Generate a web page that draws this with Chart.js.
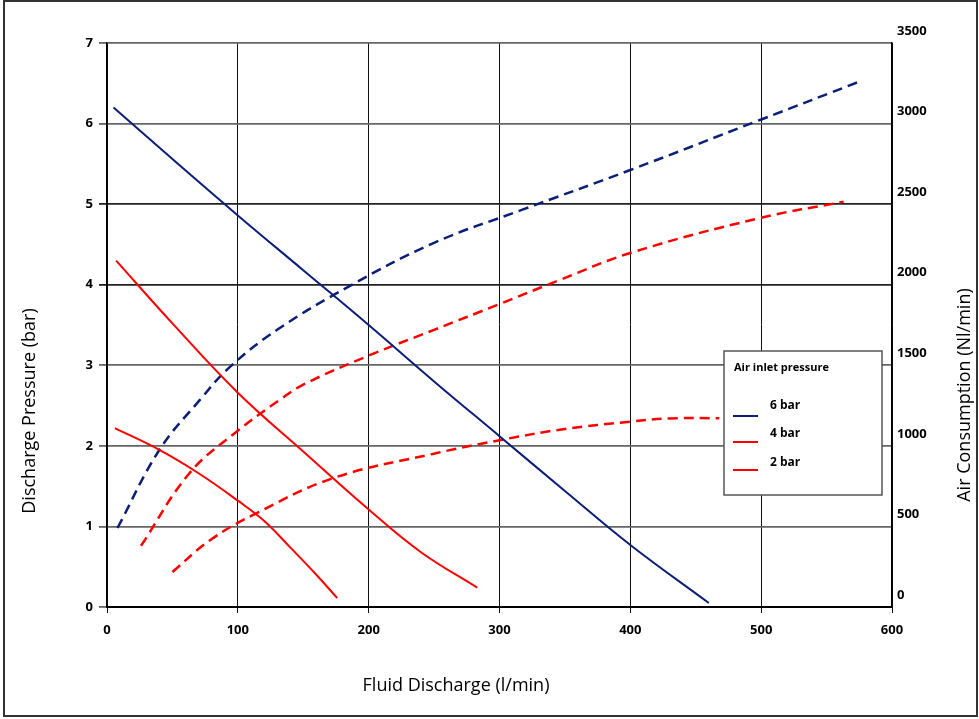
<!DOCTYPE html>
<html>
<head>
<meta charset="utf-8">
<script src="https://cdn.jsdelivr.net/npm/chart.js@4.4.1/dist/chart.umd.min.js"></script>
<style>
  html, body { margin: 0; padding: 0; background: #fff; }
  #wrap { position: relative; width: 979px; height: 719px; }
</style>
</head>
<body>
<div id="wrap"><canvas id="chart" width="979" height="719"></canvas></div>
<script>
// discharge pressure curves (left axis, bar) vs fluid discharge (l/min)
const flow6 = [5, 50, 100, 150, 200, 250, 300, 350, 400, 460];
const press6 = [6.2, 5.56, 4.86, 4.18, 3.5, 2.8, 2.12, 1.44, 0.77, 0.05];
const flow4 = [7, 50, 100, 150, 200, 240, 283];
const press4 = [4.3, 3.52, 2.66, 1.93, 1.21, 0.68, 0.24];
const flow2 = [6, 40, 70, 100, 120, 140, 160, 176];
const press2 = [2.22, 1.95, 1.66, 1.32, 1.07, 0.74, 0.4, 0.11];

// air consumption curves (right axis, Nl/min)
const airFlow6 = [8, 40, 71, 94, 130, 185, 250, 317, 400, 499, 575];
const air6 = [490, 974, 1285, 1490, 1720, 1990, 2260, 2464, 2712, 3022, 3260];
const airFlow4 = [26, 63, 99, 132, 150, 200, 250, 300, 346, 400, 499, 563];
const air4 = [380, 830, 1088, 1285, 1380, 1560, 1720, 1880, 2029, 2197, 2414, 2515];
const airFlow2 = [50, 79, 114, 173, 249, 300, 350, 400, 430, 468];
const air2 = [217, 416, 581, 800, 950, 1035, 1105, 1150, 1170, 1172];

const legendTitle = 'Air inlet pressure';
const legendLabels = ['6 bar', '4 bar', '2 bar'];

const NAVY = '#0b1f78';
const RED = '#ff0000';
const tickFont = { family: '"Open Sans", sans-serif', size: 13, weight: 'bold' };
const titleFont = '18px "Open Sans", sans-serif';

const pts = (xs, ys) => xs.map((x, i) => ({ x, y: ys[i] }));

function line(label, xs, ys, color, axis, dashed) {
  return {
    label,
    data: pts(xs, ys),
    borderColor: color,
    borderWidth: dashed ? 2.5 : 2,
    borderDash: dashed ? [10, 6] : [],
    pointRadius: 0,
    fill: false,
    tension: 0.4,
    yAxisID: axis
  };
}

// legend box + axis titles + outer frame, drawn on top
const decorations = {
  id: 'decorations',
  beforeDraw(chart) {
    const ctx = chart.ctx;
    ctx.save();
    ctx.fillStyle = '#fff';
    ctx.fillRect(0, 0, chart.width, chart.height);
    ctx.restore();
  },
  afterDraw(chart) {
    const ctx = chart.ctx;
    ctx.save();
    // frame
    ctx.strokeStyle = '#333';
    ctx.lineWidth = 2;
    ctx.strokeRect(4, 1, 973, 715);

    // axis titles
    ctx.fillStyle = '#000';
    ctx.font = titleFont;
    ctx.textAlign = 'center';
    ctx.textBaseline = 'middle';
    ctx.fillText('Fluid Discharge (l/min)', 456, 686);
    ctx.save();
    ctx.translate(30, 411);
    ctx.rotate(-Math.PI / 2);
    ctx.fillText('Discharge Pressure (bar)', 0, 0);
    ctx.restore();
    ctx.save();
    ctx.translate(965, 395);
    ctx.rotate(-Math.PI / 2);
    ctx.fillText('Air Consumption (Nl/min)', 0, 0);
    ctx.restore();

    // legend
    ctx.fillStyle = '#fff';
    ctx.fillRect(724, 351, 158, 144);
    ctx.strokeStyle = '#555';
    ctx.lineWidth = 1.5;
    ctx.strokeRect(724, 351, 158, 144);
    ctx.fillStyle = '#000';
    ctx.font = 'bold 11px "Open Sans", sans-serif';
    ctx.textAlign = 'left';
    ctx.fillText(legendTitle, 734, 368);
    ctx.font = 'bold 12px "Open Sans", sans-serif';
    const colors = [NAVY, RED, RED];
    const lineY = [416, 442, 470];
    const textY = [406, 434, 463];
    legendLabels.forEach((lab, i) => {
      ctx.strokeStyle = colors[i];
      ctx.lineWidth = 2;
      ctx.beginPath();
      ctx.moveTo(733, lineY[i]);
      ctx.lineTo(758, lineY[i]);
      ctx.stroke();
      ctx.fillStyle = '#000';
      ctx.fillText(lab, 770, textY[i]);
    });
    ctx.restore();
  }
};

new Chart(document.getElementById('chart'), {
  type: 'line',
  data: {
    datasets: [
      line('6 bar', flow6, press6, NAVY, 'y', false),
      line('4 bar', flow4, press4, RED, 'y', false),
      line('2 bar', flow2, press2, RED, 'y', false),
      line('6 bar air', airFlow6, air6, NAVY, 'y2', true),
      line('4 bar air', airFlow4, air4, RED, 'y2', true),
      line('2 bar air', airFlow2, air2, RED, 'y2', true)
    ]
  },
  options: {
    responsive: false,
    animation: false,
    layout: { padding: { top: 43, left: 0, right: 0, bottom: 0 } },
    plugins: {
      legend: { display: false },
      tooltip: { enabled: false }
    },
    scales: {
      x: {
        type: 'linear',
        min: 0,
        max: 600,
        afterFit: (s) => { s.height = 112; },
        ticks: { stepSize: 100, font: tickFont, color: '#000', padding: 9, maxRotation: 0 },
        grid: { color: '#111', lineWidth: 1, tickLength: 6 },
        border: { color: '#000', width: 2 }
      },
      y: {
        position: 'left',
        min: 0,
        max: 7,
        afterFit: (s) => { s.width = 107; },
        ticks: { stepSize: 1, font: tickFont, color: '#000', padding: 6 },
        grid: {
          color: (c) => (c.tick && (c.tick.value === 4 || c.tick.value === 5)) ? '#222' : '#666',
          lineWidth: 1.8,
          tickLength: 8
        },
        border: { color: '#000', width: 1.5 }
      },
      y2: {
        position: 'right',
        min: 0,
        max: 3500,
        afterFit: (s) => { s.width = 87; },
        ticks: {
          stepSize: 500,
          font: tickFont,
          color: '#000',
          padding: 5,
          labelOffset: -12,
          callback: (v) => String(v)
        },
        grid: { drawOnChartArea: false, tickLength: 0 },
        border: { color: '#000', width: 1.5 }
      }
    }
  },
  plugins: [decorations]
});
</script>
</body>
</html>
